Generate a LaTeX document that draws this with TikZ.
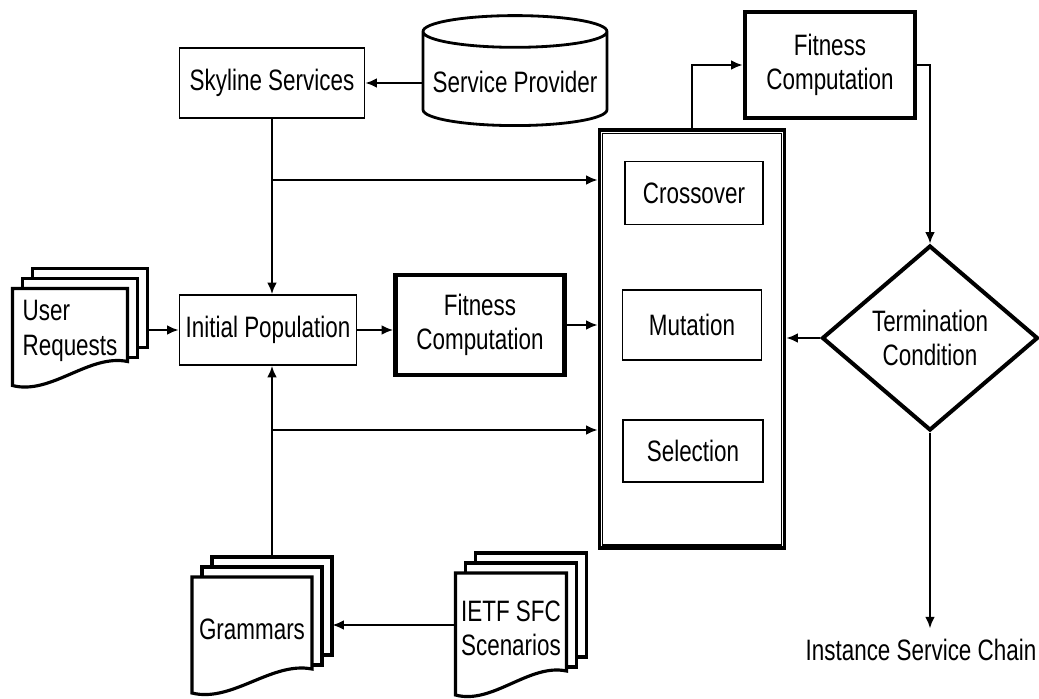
\documentclass[tikz,border=0pt]{standalone}
\usepackage{fontspec}
\setmainfont[FakeStretch=0.76]{Liberation Sans}
\usetikzlibrary{shapes,arrows.meta,positioning}
\newcommand{\diagfont}{\fontsize{16.8pt}{19.5pt}\selectfont}
\tikzset{
procbox/.style={rectangle,draw=black,line width=1.1pt,fill=white,minimum width=3.7cm,
  minimum height=1.4cm,align=center,font=\diagfont},
fitbox/.style={rectangle,draw=black,line width=2.7pt,fill=white,minimum width=3.4cm,
  minimum height=2.12cm,align=center,font=\diagfont},
opbox/.style={rectangle,draw=black,line width=0.8pt,minimum height=1.26cm,align=center,font=\diagfont},
gabox/.style={rectangle,draw=black,line width=2.2pt,minimum width=3.7cm,minimum height=8.36cm},
dbnode/.style={cylinder,shape border rotate=90,aspect=0.18,draw=black,line width=1.6pt,fill=white,
  minimum width=3.68cm,minimum height=2.2cm,font=\diagfont},
decbox/.style={diamond,draw=black,line width=2.3pt,minimum width=4.32cm,minimum height=3.7cm,
  inner sep=0pt,align=center,font=\diagfont},
docline/.style={draw=black,line width=1.8pt},
stackarea/.style={rectangle,inner sep=0pt},
doctext/.style={font=\diagfont,inner sep=0pt},
flowarr/.style={line width=1.1pt,-{Latex[length=6.5pt,width=5.5pt]}}
}
% [align]{name}{x}{y}{front width}{front height}{text}
\newcommand{\docstack}[7][center]{%
  \begin{scope}[shift={(#3,#4)}]
    \foreach \d in {20,10}
      \draw[docline,fill=white] (-#5/2+\d,-#6/2-\d) rectangle (#5/2+\d,#6/2-18-\d);
    \draw[docline,fill=white] (-#5/2,-#6/2) -- (#5/2,-#6/2) -- (#5/2,#6/2-24)
      .. controls (#5/6,#6/2-32) and (-#5/6,#6/2+10) .. (-#5/2,#6/2) -- cycle;
  \end{scope}
  \node[stackarea,minimum width={(#5+20)*0.02cm},minimum height={(#6+20)*0.02cm}] (#2) at (#3+10,#4-10) {};
  \node[doctext,align=#1] (#2txt) at (#3,#4-6) {#7};
}

\begin{document}
\begin{tikzpicture}[x=0.02cm,y=-0.02cm]
\useasboundingbox (0,0) rectangle (1039,698);
\node[procbox] (sky) at (272,83) {Skyline Services};
\node[dbnode] (prov) at (515,82) {Service Provider};
\node[procbox,minimum width=3.54cm] (init) at (268,330) {Initial Population};
\node[fitbox,minimum width=3.38cm,minimum height=2cm] (fit1) at (480,325) {Fitness\\Computation};
\node[fitbox] (fit2) at (830,65) {Fitness\\Computation};
\node[gabox] (ga) at (692,339) {};
\draw[line width=0.7pt] ([shift={(5,5)}]ga.north west) rectangle ([shift={(-5,-5)}]ga.south east);
\node[opbox,minimum width=2.76cm] (cross) at (694,193) {Crossover};
\node[opbox,minimum width=2.78cm,minimum height=1.4cm] (mut) at (692,325) {Mutation};
\node[opbox,minimum width=2.8cm,minimum height=1.24cm] (sel) at (693,451) {Selection};
\node[decbox] (term) at (930,338) {Termination\\Condition};
\node[font=\diagfont,inner sep=6pt] (out) at (921,650) {Instance Service Chain};
\docstack[left]{user}{70}{337}{115}{97}{User\\Requests}
\docstack{gram}{252}{635}{120}{116}{Grammars}
\docstack{ietf}{511}{634}{111}{122}{IETF SFC\\Scenarios}
\coordinate (upfork) at (272,180);
\coordinate (lowfork) at (272,430);
\draw[flowarr] (prov.west |- sky.east) -- (sky.east);
\draw[flowarr] (sky.south) -- (sky.south |- init.north);
\draw[flowarr] (upfork) -- (upfork -| ga.west);
\draw[flowarr] (user.east |- init.west) -- (init.west);
\draw[flowarr] (init.east) -- (init.east -| fit1.west);
\draw[flowarr] (fit1.east) -- (fit1.east -| ga.west);
\draw[flowarr] (sky.south |- gram.north) -- (sky.south |- init.south);
\draw[flowarr] (lowfork) -- (lowfork -| ga.west);
\draw[flowarr] (ietf.west |- gram.east) -- (gram.east);
\draw[flowarr] (ga.north) |- (fit2.west);
\draw[flowarr] (fit2.east) -| (term.north);
\draw[flowarr] (term.west) -- (term.west -| ga.east);
\draw[flowarr] (term.south) -- (term.south |- out.north);
\end{tikzpicture}
\end{document}
